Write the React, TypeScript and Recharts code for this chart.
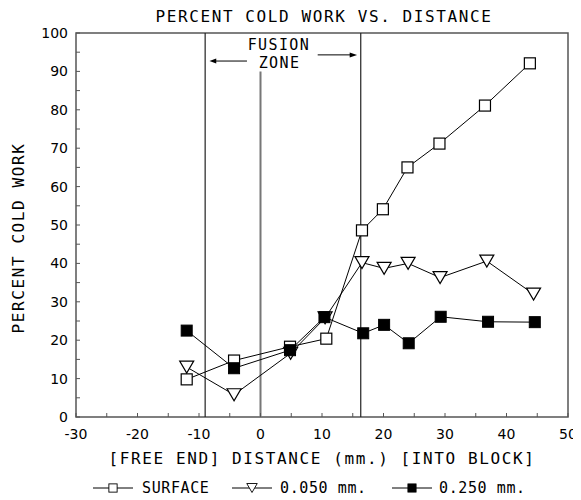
import React from "react"
import { ComposedChart, Line, XAxis, YAxis, ReferenceLine, ReferenceArea } from "recharts"

const xTicks = [-30, -25, -20, -15, -10, -5, 0, 5, 10, 15, 20, 25, 30, 35, 40, 45, 50]
const yTicks = [0, 5, 10, 15, 20, 25, 30, 35, 40, 45, 50, 55, 60, 65, 70, 75, 80, 85, 90, 95, 100]

const surfaceX = [-12, -4.3, 4.8, 10.7, 16.5, 19.9, 23.9, 29.1, 36.5, 43.8]
const surfaceY = [9.8, 14.7, 18.3, 20.4, 48.6, 54.1, 65.0, 71.2, 81.1, 92.1]

const mm050X = [-12, -4.3, 4.9, 10.5, 16.5, 20.1, 24.0, 29.2, 36.8, 44.4]
const mm050Y = [13.0, 5.8, 16.6, 25.8, 40.2, 38.7, 40.0, 36.3, 40.6, 32.0]

const mm250X = [-12, -4.3, 4.8, 10.4, 16.7, 20.1, 24.1, 29.3, 37.0, 44.6]
const mm250Y = [22.5, 12.7, 17.4, 26.0, 21.8, 24.0, 19.2, 26.1, 24.8, 24.7]

// fusion zone boundaries
const fusionLeft = -9
const fusionRight = 16.3

const toRows = (xs: number[], ys: number[]) => xs.map((x, i) => ({ x, y: ys[i] }))

const surfaceData = toRows(surfaceX, surfaceY)
const mm050Data = toRows(mm050X, mm050Y)
const mm250Data = toRows(mm250X, mm250Y)

const MONO = "'DejaVu Sans Mono', monospace"
const SANS = "'DejaVu Sans', sans-serif"

const OpenSquare = (props: any) => {
  const { cx, cy } = props
  if (cx == null || cy == null) return null
  return <rect x={cx - 5.5} y={cy - 5.5} width={11} height={11} fill="#fff" stroke="#000" strokeWidth={1.2} />
}

const DownTriangle = (props: any) => {
  const { cx, cy } = props
  if (cx == null || cy == null) return null
  return (
    <polygon
      points={`${cx - 7},${cy - 6} ${cx + 7},${cy - 6} ${cx},${cy + 6}`}
      fill="#fff"
      stroke="#000"
      strokeWidth={1.2}
    />
  )
}

const FilledSquare = (props: any) => {
  const { cx, cy } = props
  if (cx == null || cy == null) return null
  return <rect x={cx - 5.5} y={cy - 5.5} width={11} height={11} fill="#000" stroke="#000" strokeWidth={1} />
}

const XTick = ({ x, y, payload }: any) => {
  const major = payload.value % 10 === 0
  return (
    <g>
      <line x1={x} y1={y} x2={x} y2={y - 4} stroke="#555" strokeWidth={1} />
      {major && (
        <text x={x} y={y + 22} textAnchor="middle" fontFamily={SANS} fontSize={14} fill="#000">
          {payload.value}
        </text>
      )}
    </g>
  )
}

const YTick = ({ x, y, payload }: any) => {
  const major = payload.value % 10 === 0
  return (
    <g>
      <line x1={x} y1={y} x2={x + 4} y2={y} stroke="#555" strokeWidth={1} />
      {major && (
        <text x={x - 8} y={y} textAnchor="end" dominantBaseline="central" fontFamily={SANS} fontSize={14} fill="#000">
          {payload.value}
        </text>
      )}
    </g>
  )
}

const YLabel = ({ viewBox }: any) => {
  const cx = viewBox.x - 18
  const cy = viewBox.y + viewBox.height / 2 + 13
  return (
    <text
      x={cx}
      y={cy}
      transform={`rotate(-90 ${cx} ${cy})`}
      textAnchor="middle"
      dominantBaseline="central"
      fontFamily={MONO}
      fontSize={16}
      letterSpacing={1.6}
      fill="#000"
    >
      PERCENT COLD WORK
    </text>
  )
}

const XLabel = ({ viewBox }: any) => (
  <text
    x={viewBox.x + viewBox.width / 2}
    y={viewBox.y + 41}
    textAnchor="middle"
    dominantBaseline="central"
    fontFamily={MONO}
    fontSize={16}
    letterSpacing={1.6}
    fill="#000"
  >
    [FREE END] DISTANCE (mm.) [INTO BLOCK]
  </text>
)

// annotation inside the plot frame, placed in data units
const FusionLabel = ({ viewBox }: any) => {
  const sx = (v: number) => viewBox.x + ((v + 30) / 80) * viewBox.width
  const sy = (v: number) => viewBox.y + ((100 - v) / 100) * viewBox.height
  const ly = sy(92.7)
  const ry = sy(94.3)
  return (
    <g fontFamily={MONO} fontSize={15} letterSpacing={1.4} fill="#000">
      <text x={sx(3)} y={sy(96.9)} textAnchor="middle" dominantBaseline="central">FUSION</text>
      <text x={sx(3.1)} y={sy(92.2)} textAnchor="middle" dominantBaseline="central">ZONE</text>
      <line x1={sx(-2.2)} y1={ly} x2={sx(-7.4)} y2={ly} stroke="#000" strokeWidth={1} />
      <polygon points={`${sx(-8.3)},${ly} ${sx(-7.2)},${ly - 2.5} ${sx(-7.2)},${ly + 2.5}`} fill="#000" />
      <line x1={sx(9.3)} y1={ry} x2={sx(14.7)} y2={ry} stroke="#000" strokeWidth={1} />
      <polygon points={`${sx(15.7)},${ry} ${sx(14.5)},${ry - 2.5} ${sx(14.5)},${ry + 2.5}`} fill="#000" />
    </g>
  )
}

const series = [
  { name: "SURFACE", Mark: OpenSquare, lineFrom: 85, textAt: 134 },
  { name: "0.050 mm.", Mark: DownTriangle, lineFrom: 224, textAt: 272 },
  { name: "0.250 mm.", Mark: FilledSquare, lineFrom: 384, textAt: 431 },
]

const LegendRow = () => (
  <svg width={573} height={20} style={{ position: "absolute", left: 0, top: 470 }}>
    {series.map(({ name, Mark, lineFrom, textAt }) => (
      <g key={name}>
        <line x1={lineFrom} y1={10} x2={lineFrom + 40} y2={10} stroke="#000" strokeWidth={1} />
        <g transform={`translate(${lineFrom + 20},10) scale(0.75) translate(${-(lineFrom + 20)},-10)`}>
          <Mark cx={lineFrom + 20} cy={10} />
        </g>
        <text x={textAt} y={10} dominantBaseline="central" fontFamily={MONO} fontSize={15} letterSpacing={0.6} fill="#000">
          {name}
        </text>
      </g>
    ))}
  </svg>
)

export default function App() {
  return (
    <div style={{ position: "relative", width: 573, height: 492 }}>
      <div
        style={{
          position: "absolute",
          left: 68,
          top: 0,
          width: 496,
          textAlign: "center",
          fontFamily: MONO,
          fontSize: 16,
          letterSpacing: 1.6,
          lineHeight: "18px",
          color: "#000",
        }}
      >
        PERCENT COLD WORK VS. DISTANCE
      </div>
      <ComposedChart width={573} height={492} margin={{ top: 25, right: 13, left: 28, bottom: 53 }}>
        <XAxis
          dataKey="x"
          type="number"
          domain={[-30, 50]}
          ticks={xTicks}
          interval={0}
          allowDataOverflow
          axisLine={false}
          tickLine={false}
          tickSize={0}
          tickMargin={0}
          height={30}
          tick={<XTick />}
          label={<XLabel />}
        />
        <YAxis
          type="number"
          domain={[0, 100]}
          ticks={yTicks}
          interval={0}
          allowDataOverflow
          axisLine={false}
          tickLine={false}
          tickSize={0}
          tickMargin={0}
          width={40}
          tick={<YTick />}
          label={<YLabel />}
        />
        <ReferenceArea
          x1={-30}
          x2={50}
          y1={0}
          y2={100}
          fill="none"
          stroke="#555"
          strokeWidth={1.5}
          label={<FusionLabel />}
        />
        <ReferenceLine x={fusionLeft} stroke="#222" strokeWidth={1.2} />
        <ReferenceLine
          segment={[
            { x: 0, y: 0 },
            { x: 0, y: 90 },
          ]}
          stroke="#777"
          strokeWidth={2}
        />
        <ReferenceLine x={fusionRight} stroke="#222" strokeWidth={1.2} />
        <Line
          data={surfaceData}
          dataKey="y"
          type="linear"
          stroke="#000"
          strokeWidth={1}
          dot={<OpenSquare />}
          activeDot={false}
          isAnimationActive={false}
        />
        <Line
          data={mm050Data}
          dataKey="y"
          type="linear"
          stroke="#000"
          strokeWidth={1}
          dot={<DownTriangle />}
          activeDot={false}
          isAnimationActive={false}
        />
        <Line
          data={mm250Data}
          dataKey="y"
          type="linear"
          stroke="#000"
          strokeWidth={1}
          dot={<FilledSquare />}
          activeDot={false}
          isAnimationActive={false}
        />
      </ComposedChart>
      <LegendRow />
    </div>
  )
}
